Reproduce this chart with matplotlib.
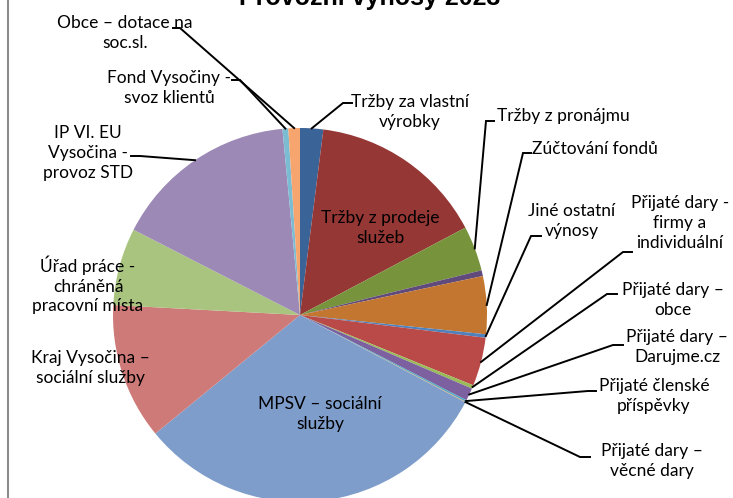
import numpy as np
import matplotlib.pyplot as plt
from matplotlib.lines import Line2D

# Slices clockwise from 12 o'clock (share of total, %)
labels = [
    "Tržby za vlastní\nvýrobky",
    "Tržby z prodeje\nslužeb",
    "Tržby z pronájmu",
    "",
    "Zúčtování fondů",
    "Jiné ostatní\nvýnosy",
    "Přijaté dary -\nfirmy a\nindividuální",
    "Přijaté dary –\nobce",
    "Přijaté dary –\nDarujme.cz",
    "Přijaté členské\npříspěvky",
    "Přijaté dary –\nvěcné dary",
    "MPSV – sociální\nslužby",
    "Kraj Vysočina –\nsociální služby",
    "Úřad práce -\nchráněná\npracovní místa",
    "IP VI. EU\nVysočina -\nprovoz STD",
    "Fond Vysočiny -\nsvoz klientů",
    "Obce – dotace na\nsoc.sl.",
]
values = [2.0, 15.3, 3.9, 0.5, 5.0, 0.3, 4.2, 0.3, 1.1, 0.15, 0.05,
          31.4, 11.8, 6.7, 16.0, 0.5, 1.0]
colors = ["#3A6397", "#953735", "#77933C", "#604A7B", "#C3762F", "#4F81BD",
          "#B94A48", "#9BBB59", "#7D60A0", "#4BACC6", "#F79646",
          "#7E9DCB", "#CE7A78", "#A9C47F", "#9C89B5", "#7CBCD3", "#F7A56F"]

W, H = 733, 498


def px(x, y):
    # pixel coords (origin top-left) -> data coords
    return x, H - y


# label layout in pixels: text centre, leader elbow, end of horizontal stub
layout = {
    0: ((410, 112), (343, 103), 352),
    1: ((380, 228), None, None),
    2: ((563, 116), (486, 121), 494),
    4: ((595, 149), (523, 153), 531),
    5: ((572, 221), (531, 236), 541),
    6: ((680, 223), (623, 252), 632),
    7: ((673, 300), (607, 294), 617),
    8: ((677, 347), (613, 345), 623),
    9: ((654, 396), (588, 391), 596),
    10: ((652, 461), (580, 457), 590),
    11: ((320, 414), None, None),
    12: ((90, 368), None, None),
    13: ((88, 285), None, None),
    14: ((88, 153), (140, 156), 131),
    15: ((169, 88), (240, 80), 232),
    16: ((125, 33), (180, 28), 173),
}

plt.rcParams['font.family'] = ['Lato', 'DejaVu Sans']

fig = plt.figure(figsize=(W / 100, H / 100), dpi=100)
ax = fig.add_axes([0, 0, 1, 1])

cx, cy = px(300, 315)
r = 187
wedges, _ = ax.pie(values, colors=colors, startangle=90, counterclock=False,
                   radius=r, center=(cx, cy), wedgeprops=dict(linewidth=0))

ax.set_xlim(0, W)
ax.set_ylim(0, H)
ax.set_aspect('equal')
ax.axis('off')

for i, (tpos, elbow, stub) in layout.items():
    ax.text(*px(*tpos), labels[i], ha='center', va='center', fontsize=12.5,
            linespacing=1.28, color='black', zorder=5)
    if elbow is None:
        continue
    w = wedges[i]
    mid = np.deg2rad((w.theta1 + w.theta2) / 2)
    ex, ey = cx + r * np.cos(mid), cy + r * np.sin(mid)
    bx, by = px(*elbow)
    sx, _ = px(stub, 0)
    ax.plot([ex, bx, sx], [ey, by, by], color='black', lw=1.4, zorder=4,
            solid_joinstyle='miter')

# title, mostly clipped by the top edge as in the source
fig.text(370 / W, 1 - 5 / H, "Provozní výnosy 2023", ha='center', va='baseline',
         fontsize=18, fontweight='bold', family='Liberation Sans')

# grey frame line on the left
fig.add_artist(Line2D([8 / W, 8 / W], [0, 1], color='#8C8C8C', lw=1.5))

fig.savefig("out.png", dpi=100)
